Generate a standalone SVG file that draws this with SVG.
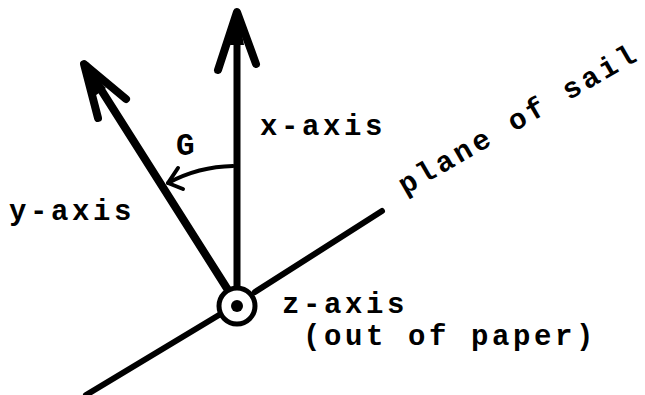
<svg xmlns="http://www.w3.org/2000/svg" width="645" height="395" viewBox="0 0 645 395">
<style>
.t{font-family:"Liberation Mono","DejaVu Sans Mono",monospace;font-size:29px;font-weight:bold;letter-spacing:3.6px;fill:#000}
.g{font-size:31px}
.ln{stroke:#000;fill:none;stroke-linecap:round;stroke-linejoin:round}
</style>
<rect width="645" height="395" fill="#fff"/>
<g id="connectors">
<line class="ln" x1="237" y1="288" x2="237" y2="14" stroke-width="7"/>
<polyline class="ln" points="218,70 237,12 256,64" stroke-width="8"/>
<polygon points="237,8 230,45 244,45" fill="#000"/>
<line class="ln" x1="228" y1="290" x2="86" y2="66" stroke-width="8"/>
<polyline class="ln" points="98,118 84,64 126,99" stroke-width="8"/>
<polygon points="82,62 92,98 106,88" fill="#000"/>
<line class="ln" x1="219" y1="315" x2="86" y2="395" stroke-width="6"/>
<line class="ln" x1="255" y1="292" x2="382" y2="211" stroke-width="6"/>
<path class="ln" d="M 233 166 A 142 142 0 0 0 168 183" stroke-width="4"/>
<polyline class="ln" points="178,168 168,183 183,189" stroke-width="4"/>
</g>
<g id="origin">
<circle cx="237" cy="306" r="18" fill="#fff" stroke="#000" stroke-width="5"/>
<circle cx="237" cy="306" r="6" fill="#000"/>
</g>
<g id="x-axis-label"><text class="t" x="260" y="135">x-axis</text></g>
<g id="y-axis-label"><text class="t" x="9" y="220">y-axis</text></g>
<g id="z-axis-label">
<text class="t" x="282" y="313">z-axis</text>
<text class="t" x="303" y="345">(out of paper)</text>
</g>
<g id="angle-label"><text class="t g" x="176" y="155">G</text></g>
<g id="plane-label"><text class="t" transform="translate(405,195) rotate(-30)">plane of sail</text></g>
</svg>
